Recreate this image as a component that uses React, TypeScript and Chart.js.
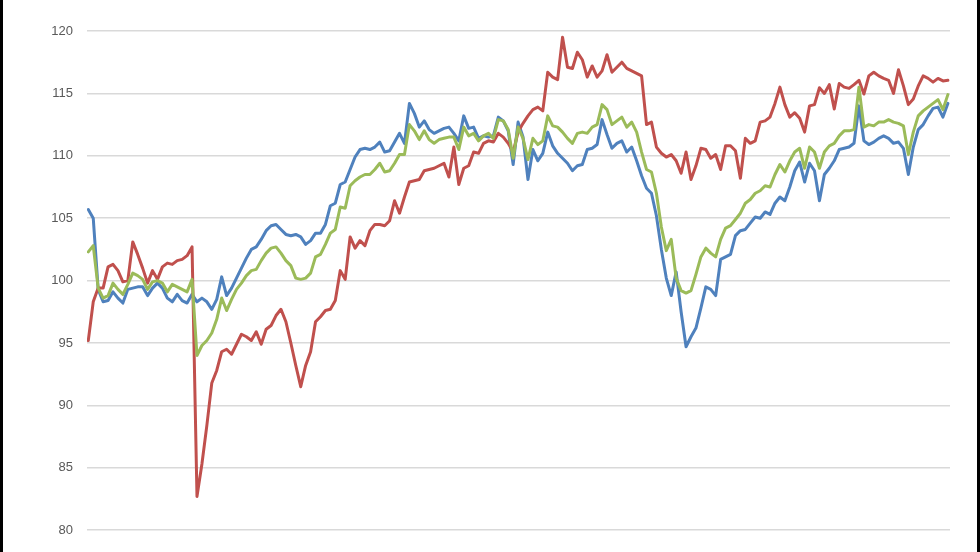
import React, { useEffect, useRef } from 'react';
import { Chart, registerables } from 'chart.js';

Chart.register(...registerables);

// y-axis tick range
const yMin = 80;
const yMax = 120;
const yStep = 5;

// Series 1 (blue)
const blueValues = [
  105.7, 105.0, 99.3, 98.3, 98.4, 99.1, 98.6, 98.2, 99.3, 99.4,
  99.5, 99.5, 98.8, 99.4, 99.8, 99.4, 98.6, 98.3, 98.9, 98.4,
  98.2, 98.9, 98.3, 98.6, 98.3, 97.7, 98.5, 100.3, 98.8, 99.4,
  100.2, 101.0, 101.8, 102.5, 102.7, 103.3, 104.0, 104.4, 104.5, 104.1,
  103.7, 103.6, 103.7, 103.5, 102.9, 103.2, 103.8, 103.8, 104.5, 106.0,
  106.2, 107.7, 107.9, 108.9, 109.9, 110.5, 110.6, 110.5, 110.7, 111.1,
  110.3, 110.4, 111.1, 111.8, 111.0, 114.2, 113.4, 112.3, 112.8, 112.1,
  111.8, 112.0, 112.2, 112.3, 111.8, 111.2, 113.2, 112.2, 112.3, 111.4,
  111.6, 111.5, 111.6, 113.1, 112.8, 112.0, 109.3, 112.7, 111.5, 108.1,
  110.5, 109.6, 110.2, 111.9, 110.8, 110.2, 109.8, 109.4, 108.8, 109.2,
  109.3, 110.5, 110.6, 110.9, 112.9, 111.7, 110.6, 111.0, 111.2, 110.3,
  110.7, 109.6, 108.4, 107.4, 107.0, 105.2, 102.5, 100.2, 98.8, 100.7,
  97.5, 94.7, 95.5, 96.2, 97.8, 99.5, 99.3, 98.8, 101.7, 101.9,
  102.1, 103.6, 104.0, 104.1, 104.6, 105.1, 105.0, 105.5, 105.3, 106.2,
  106.7, 106.4, 107.5, 108.8, 109.5, 107.9, 109.4, 108.8, 106.4, 108.5,
  109.0, 109.6, 110.5, 110.6, 110.7, 111.0, 114.0, 111.2, 110.9, 111.1,
  111.4, 111.6, 111.4, 111.0, 111.1, 110.6, 108.5, 110.7, 112.1, 112.5,
  113.2, 113.8, 113.9, 113.1, 114.2,
];

// Series 2 (red)
const redValues = [
  95.2, 98.3, 99.4, 99.4, 101.1, 101.3, 100.8, 99.9, 100.0, 103.1,
  102.1, 101.0, 99.8, 100.8, 100.1, 101.1, 101.4, 101.3, 101.6, 101.7,
  102.0, 102.7, 82.7, 85.3, 88.4, 91.8, 92.8, 94.3, 94.5, 94.1,
  94.9, 95.7, 95.5, 95.2, 95.9, 94.9, 96.1, 96.4, 97.2, 97.7,
  96.7, 95.0, 93.2, 91.5, 93.2, 94.3, 96.7, 97.1, 97.6, 97.7,
  98.4, 100.8, 100.1, 103.5, 102.6, 103.2, 102.8, 104.0, 104.5, 104.5,
  104.4, 104.8, 106.4, 105.4, 106.7, 107.9, 108.0, 108.1, 108.8, 108.9,
  109.0, 109.2, 109.4, 108.3, 110.7, 107.7, 109.0, 109.2, 110.3, 110.2,
  111.0, 111.2, 111.1, 111.8, 111.5, 111.0, 110.3, 111.9, 112.6, 113.2,
  113.7, 113.9, 113.6, 116.7, 116.3, 116.1, 119.5, 117.1, 117.0, 118.3,
  117.7, 116.3, 117.2, 116.3, 116.8, 118.1, 116.7, 117.1, 117.5, 117.0,
  116.8, 116.6, 116.4, 112.5, 112.7, 110.7, 110.2, 109.9, 110.1, 109.6,
  108.6, 110.3, 108.1, 109.2, 110.6, 110.5, 109.8, 110.1, 108.9, 110.8,
  110.8, 110.4, 108.2, 111.4, 111.0, 111.2, 112.7, 112.8, 113.1, 114.2,
  115.5, 114.1, 113.1, 113.45, 113.0, 111.9, 114.0, 114.1, 115.45, 115.0,
  115.7, 113.75, 115.8, 115.5, 115.4, 115.7, 116.05, 114.95, 116.4, 116.7,
  116.4, 116.2, 116.05, 115.0, 116.9, 115.6, 114.1, 114.55, 115.6, 116.4,
  116.2, 115.9, 116.2, 116.0, 116.05,
];

// Series 3 (green)
const greenValues = [
  102.3, 102.8, 99.4, 98.6, 98.8, 99.8, 99.3, 98.9, 99.7, 100.6,
  100.4, 100.1, 99.3, 99.9, 100.0, 99.8, 99.1, 99.7, 99.5, 99.3,
  99.1, 100.1, 94.0, 94.8, 95.2, 95.8, 96.9, 98.6, 97.6, 98.5,
  99.3, 99.8, 100.4, 100.8, 100.9, 101.6, 102.2, 102.6, 102.7, 102.2,
  101.6, 101.2, 100.2, 100.1, 100.2, 100.6, 101.9, 102.1, 102.9, 103.8,
  104.1, 105.9, 105.8, 107.6, 108.0, 108.3, 108.5, 108.5, 108.9, 109.4,
  108.7, 108.8, 109.4, 110.1, 110.1, 112.5, 112.0, 111.3, 112.0, 111.3,
  111.0, 111.3, 111.4, 111.5, 111.5, 110.5, 112.3, 111.6, 111.8, 111.2,
  111.6, 111.8, 111.4, 112.9, 112.8, 112.1, 109.8, 112.3, 111.4, 109.7,
  111.4, 110.9, 111.2, 113.2, 112.4, 112.3, 111.9, 111.4, 111.0, 111.8,
  111.9, 111.8, 112.3, 112.5, 114.1, 113.7, 112.5, 112.8, 113.1, 112.3,
  112.7, 111.9, 110.3, 108.9, 108.7, 107.0, 104.3, 102.4, 103.3, 100.2,
  99.2, 99.0, 99.2, 100.5, 101.9, 102.6, 102.2, 101.9, 103.3, 104.2,
  104.4, 104.9, 105.4, 106.2, 106.5, 107.0, 107.2, 107.6, 107.5, 108.5,
  109.3, 108.7, 109.6, 110.3, 110.6, 109.0, 110.7, 110.3, 109.0, 110.3,
  110.8, 111.0, 111.6, 112.0, 112.0, 112.1, 115.5, 112.3, 112.5, 112.4,
  112.7, 112.7, 112.9, 112.7, 112.6, 112.4, 110.1, 111.9, 113.2, 113.6,
  113.9, 114.2, 114.5, 113.7, 114.9,
];

const toPoints = (values: number[]) => values.map((v, i) => ({ x: i, y: v }));

export default function App() {
  const canvasRef = useRef<HTMLCanvasElement | null>(null);

  useEffect(() => {
    const canvas = canvasRef.current;
    if (!canvas) return;
    const lastIndex = blueValues.length - 1;
    const chart = new Chart(canvas, {
      type: 'line',
      data: {
        datasets: [
          {
            label: 'Series 3',
            data: toPoints(greenValues),
            borderColor: '#9bbb59',
            backgroundColor: '#9bbb59',
            order: 0,
          },
          {
            label: 'Series 2',
            data: toPoints(redValues),
            borderColor: '#c0504d',
            backgroundColor: '#c0504d',
            order: 1,
          },
          {
            label: 'Series 1',
            data: toPoints(blueValues),
            borderColor: '#4f81bd',
            backgroundColor: '#4f81bd',
            order: 2,
          },
        ],
      },
      options: {
        animation: false,
        responsive: false,
        maintainAspectRatio: false,
        layout: { padding: { top: 31, bottom: 8, left: 0, right: 27 } },
        plugins: {
          legend: { display: false },
          tooltip: { enabled: false },
        },
        elements: {
          point: { radius: 0 },
          line: {
            borderWidth: 3,
            tension: 0,
            borderJoinStyle: 'round',
            borderCapStyle: 'round',
          },
        },
        scales: {
          x: {
            type: 'linear',
            display: false,
            min: -0.263,
            max: lastIndex + 0.43,
          },
          y: {
            min: yMin,
            max: yMax,
            ticks: {
              stepSize: yStep,
              padding: 14,
              color: '#595959',
              font: { family: 'Liberation Sans', size: 13 },
            },
            grid: { color: '#d9d9d9', lineWidth: 1.5, drawTicks: false },
            border: { display: false },
            afterFit: (scale: any) => {
              scale.width = 84;
            },
          },
        },
      } as any,
    });
    return () => chart.destroy();
  }, []);

  return (
    <div
      style={{
        position: 'absolute',
        left: 0,
        top: 0,
        width: 980,
        height: 552,
        boxSizing: 'border-box',
        borderLeft: '3px solid #000',
        borderRight: '3px solid #000',
        background: '#fff',
      }}
    >
      <canvas
        ref={canvasRef}
        width={974}
        height={552}
        style={{ display: 'block', width: 974, height: 552 }}
      />
    </div>
  );
}
